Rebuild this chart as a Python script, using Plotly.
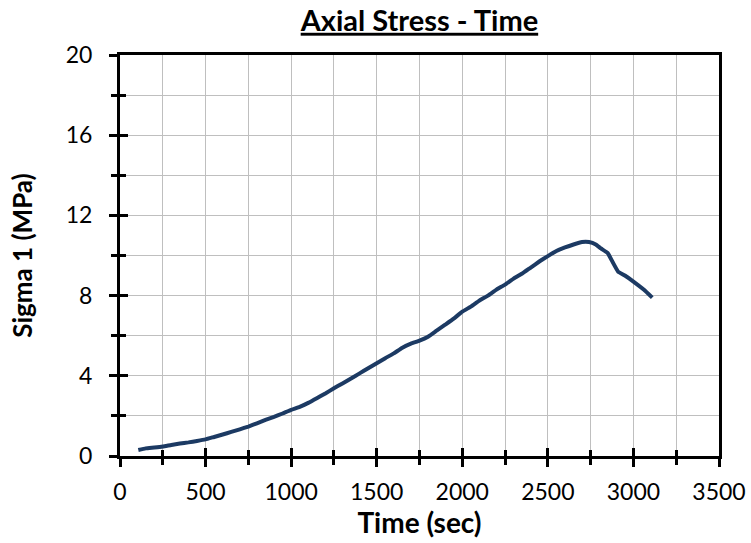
import plotly.graph_objects as go

# Test record: axial stress against elapsed time
time_sec = [107, 150, 200, 250, 300, 350, 400, 450, 500, 550, 600, 650, 700, 750,
            800, 850, 900, 950, 1000, 1050, 1100, 1150, 1200, 1250, 1300, 1350,
            1400, 1450, 1500, 1550, 1600, 1650, 1700, 1750, 1800, 1850, 1900,
            1950, 2000, 2050, 2100, 2150, 2200, 2250, 2300, 2350, 2400, 2450,
            2500, 2550, 2600, 2650, 2700, 2740, 2780, 2810, 2850, 2880, 2910,
            2950, 3000, 3060, 3110]
sigma1_mpa = [0.30, 0.38, 0.42, 0.47, 0.55, 0.62, 0.68, 0.75, 0.83, 0.95, 1.07,
              1.20, 1.33, 1.47, 1.63, 1.80, 1.95, 2.12, 2.30, 2.45, 2.65, 2.88,
              3.12, 3.38, 3.62, 3.87, 4.12, 4.38, 4.63, 4.88, 5.12, 5.40, 5.60,
              5.75, 5.95, 6.25, 6.55, 6.85, 7.20, 7.45, 7.75, 8.00, 8.30, 8.55,
              8.85, 9.10, 9.40, 9.70, 9.97, 10.22, 10.40, 10.55, 10.67, 10.67,
              10.55, 10.35, 10.12, 9.65, 9.20, 9.00, 8.70, 8.30, 7.90]

x_ticks = [0, 500, 1000, 1500, 2000, 2500, 3000, 3500]
y_ticks = [0, 4, 8, 12, 16, 20]

FONT = "Lato, Open Sans, sans-serif"
GRID = "#bfbfbf"
LINE = "#1c3a63"

fig = go.Figure()
fig.add_trace(go.Scatter(x=time_sec, y=sigma1_mpa, mode="lines",
                         line=dict(color=LINE, width=4, shape="spline", smoothing=0.3),
                         showlegend=False, hoverinfo="x+y"))
# invisible trace to activate the overlay axes used for inside tick marks
fig.add_trace(go.Scatter(x=[None], y=[None], xaxis="x2", yaxis="y2",
                         showlegend=False, hoverinfo="skip"))

common = dict(showline=True, linecolor="black", linewidth=3, zeroline=False,
              tickcolor="black", tickwidth=3, ticklen=8, ticks="outside",
              automargin=False,
              tickfont=dict(family=FONT, size=23, color="black"))

fig.update_layout(
    width=751, height=543,
    margin=dict(l=120, r=32, t=55, b=87, autoexpand=False),
    paper_bgcolor="white", plot_bgcolor="white",
    title=dict(text="<b><u>Axial Stress - Time</u></b>", x=0.5585, xanchor="center",
               y=0.962, yanchor="middle",
               font=dict(family=FONT, size=29, color="black")),
    xaxis=dict(range=[0, 3500], tickvals=x_ticks, mirror=True,
               showgrid=True, gridcolor=GRID, gridwidth=1,
               minor=dict(dtick=250, tick0=0, ticks="outside", ticklen=6,
                          tickwidth=3, tickcolor="black",
                          showgrid=True, gridcolor=GRID, gridwidth=1),
               ticklabelstandoff=5,
               title=dict(text="<b>Time (sec)</b>", standoff=2,
                          font=dict(family=FONT, size=28, color="black")),
               **common),
    yaxis=dict(range=[0, 20], tickvals=y_ticks, mirror=True,
               showgrid=True, gridcolor=GRID, gridwidth=1,
               minor=dict(dtick=2, tick0=0, ticks="outside", ticklen=6,
                          tickwidth=3, tickcolor="black",
                          showgrid=True, gridcolor=GRID, gridwidth=1),
               ticklabelstandoff=12,
               title=dict(text="<b>Sigma 1 (MPa)</b>", standoff=26,
                          font=dict(family=FONT, size=26, color="black")),
               **common),
    xaxis2=dict(overlaying="x", range=[0, 3500], tickvals=x_ticks,
                showticklabels=False, showgrid=False, zeroline=False,
                automargin=False,
                ticks="inside", ticklen=8, tickwidth=3, tickcolor="black",
                minor=dict(dtick=250, tick0=0, ticks="inside", ticklen=6,
                           tickwidth=3, tickcolor="black", showgrid=False)),
    yaxis2=dict(overlaying="y", range=[0, 20], tickvals=y_ticks,
                showticklabels=False, showgrid=False, zeroline=False,
                automargin=False,
                ticks="inside", ticklen=8, tickwidth=3, tickcolor="black",
                minor=dict(dtick=2, tick0=0, ticks="inside", ticklen=6,
                           tickwidth=3, tickcolor="black", showgrid=False)),
)

fig.write_html("out.html")
